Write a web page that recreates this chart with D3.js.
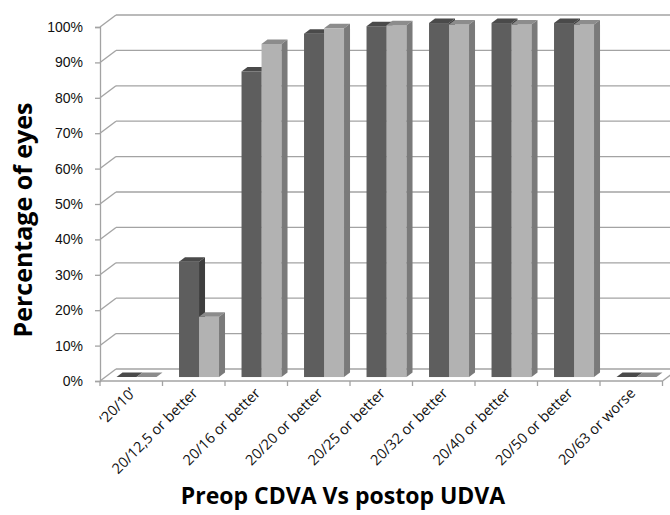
<!DOCTYPE html>
<html>
<head>
<meta charset="utf-8">
<script src="https://cdn.jsdelivr.net/npm/d3@7"></script>
<style>
  body { margin: 0; background: #fff; }
  svg { display: block; font-family: "Open Sans", "Noto Sans", sans-serif; }
</style>
</head>
<body>
<div id="chart"></div>
<script>
// Categories and series (percentage of eyes)
const categories = ["‘20/10’", "20/12,5 or better", "20/16 or better", "20/20 or better",
    "20/25 or better", "20/32 or better", "20/40 or better", "20/50 or better", "20/63 or worse"];
const preopCDVA = [0, 32.6, 86.3, 97, 99.1, 100, 100, 100, 0];
const postopUDVA = [0, 17, 94.1, 98.5, 99.4, 99.6, 99.6, 99.6, 0];
const yTicks = [0, 10, 20, 30, 40, 50, 60, 70, 80, 90, 100];

function create_bar3d_chart(width, height) {
    var margin = { top: 27, right: 7.5, bottom: 134, left: 100 };
    const innerWidth = width - margin.left - margin.right;
    const innerHeight = height - margin.top - margin.bottom;

    // depth of the whole box (back wall offset)
    const depth = { dx: 16, dy: -12 };
    // bar placement inside the depth
    const barFront = 0.33, barDepth = 0.375;

    var svg = d3.select("#chart").append("svg")
        .attr("width", width)
        .attr("height", height);

    var g = svg.append("g")
        .attr("transform", "translate(" + margin.left + "," + margin.top + ")");

    var x = d3.scaleBand().domain(categories).range([0, innerWidth]);
    var y = d3.scaleLinear().domain([0, 100]).range([innerHeight, 0]);

    var gridColor = "#a3a3a3";

    // back wall gridlines
    g.selectAll(".grid")
        .data(yTicks)
        .enter().append("line")
        .attr("x1", depth.dx).attr("x2", innerWidth + depth.dx)
        .attr("y1", d => y(d) + depth.dy).attr("y2", d => y(d) + depth.dy)
        .attr("stroke", gridColor).attr("stroke-width", 1.3);

    // left wall diagonals
    g.selectAll(".diag")
        .data(yTicks)
        .enter().append("line")
        .attr("x1", 0).attr("x2", depth.dx)
        .attr("y1", d => y(d)).attr("y2", d => y(d) + depth.dy)
        .attr("stroke", gridColor).attr("stroke-width", 1.3);

    // floor right edge
    g.append("line")
        .attr("x1", innerWidth).attr("x2", innerWidth + depth.dx)
        .attr("y1", innerHeight).attr("y2", innerHeight + depth.dy)
        .attr("stroke", gridColor).attr("stroke-width", 1.3);

    // bars
    var series = [
        { values: preopCDVA, front: "#5e5e5e", top: "#4a4a4a", side: "#3e3e3e" },
        { values: postopUDVA, front: "#b2b2b2", top: "#8c8c8c", side: "#7a7a7a" }
    ];
    var barW = x.bandwidth() * 0.32;
    var ox = depth.dx * barFront, oy = depth.dy * barFront;
    var bx = depth.dx * barDepth, by = depth.dy * barDepth;

    categories.forEach(function (c, i) {
        var cx = x(c) + x.bandwidth() / 2 + ox;
        series.forEach(function (s, j) {
            var x0 = cx - barW + j * barW, x1 = x0 + barW;
            var yb = y(0) + oy, yt = y(s.values[i]) + oy;
            var bar = g.append("g").attr("class", "bar");
            bar.append("rect")
                .attr("x", x0).attr("y", yt)
                .attr("width", barW).attr("height", yb - yt)
                .attr("fill", s.front);
            bar.append("path")
                .attr("d", "M" + x0 + "," + yt + "L" + (x0 + bx) + "," + (yt + by) +
                    "L" + (x1 + bx) + "," + (yt + by) + "L" + x1 + "," + yt + "Z")
                .attr("fill", s.top);
            bar.append("path")
                .attr("d", "M" + x1 + "," + yt + "L" + (x1 + bx) + "," + (yt + by) +
                    "L" + (x1 + bx) + "," + (yb + by) + "L" + x1 + "," + yb + "Z")
                .attr("fill", s.side);
        });
    });

    // y axis (front left edge)
    var yAxis = d3.axisLeft(y).tickValues(yTicks).tickSize(5).tickPadding(12)
        .tickFormat(d => d + "%");
    var ya = g.append("g").call(yAxis);
    ya.select(".domain").attr("stroke", gridColor).attr("stroke-width", 1.3);
    ya.selectAll(".tick line").attr("stroke", gridColor).attr("stroke-width", 1.3);
    ya.selectAll("text").style("font-size", "14px").attr("fill", "#111");

    // x axis (front floor edge)
    var xa = g.append("g").attr("transform", "translate(0," + innerHeight + ")");
    xa.append("line")
        .attr("x1", 0).attr("x2", innerWidth)
        .attr("stroke", gridColor).attr("stroke-width", 1.3);
    var bounds = categories.map(c => x(c)).concat([innerWidth]);
    xa.selectAll(".xtick")
        .data(bounds)
        .enter().append("line")
        .attr("x1", d => d).attr("x2", d => d)
        .attr("y1", 0).attr("y2", 5)
        .attr("stroke", gridColor).attr("stroke-width", 1.3);
    xa.selectAll(".xlabel")
        .data(categories)
        .enter().append("text")
        .attr("text-anchor", "end")
        .attr("transform", d => "translate(" + (x(d) + x.bandwidth() / 2 + 5) + ",13) rotate(-45)")
        .style("font-size", "14.5px")
        .attr("fill", "#111")
        .text(d => d);

    // axis titles
    svg.append("text")
        .attr("text-anchor", "middle")
        .attr("x", 343)
        .attr("y", 504)
        .style("font-size", "23px")
        .style("font-weight", "bold")
        .text("Preop CDVA Vs postop UDVA");

    svg.append("text")
        .attr("text-anchor", "middle")
        .attr("transform", "translate(32,220) rotate(-90)")
        .style("font-size", "25px")
        .style("font-weight", "bold")
        .text("Percentage of eyes");
}

create_bar3d_chart(670, 515);
</script>
</body>
</html>
